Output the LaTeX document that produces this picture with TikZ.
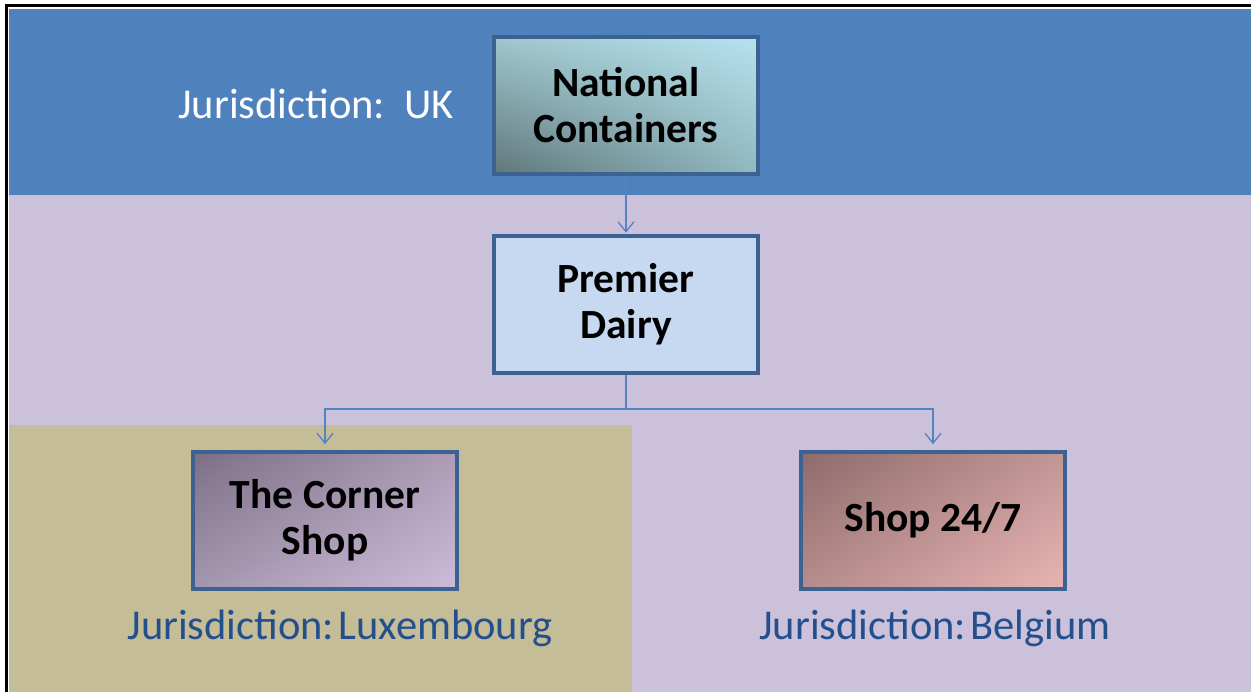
\documentclass[tikz,border=0pt]{standalone}
\usepackage{fontspec}
\setmainfont{Carlito}
\usetikzlibrary{arrows.meta,shadings}

\definecolor{bandblue}{HTML}{4F81BD}
\definecolor{lavender}{HTML}{CCC1DA}
\definecolor{khaki}{HTML}{C4BD97}
\definecolor{boxedge}{HTML}{3C6291}
\definecolor{linkblue}{HTML}{5283C2}
\definecolor{jurtext}{HTML}{23508D}
\definecolor{dairyfill}{HTML}{C6D9F1}
% corner colours of the shaded entities
\definecolor{ncUL}{HTML}{A0C6CE}
\definecolor{ncUR}{HTML}{B6E2EE}
\definecolor{ncLL}{HTML}{5F777A}
\definecolor{ncLR}{HTML}{92B8C0}
\definecolor{csUL}{HTML}{7B6F85}
\definecolor{csUR}{HTML}{AE9CB6}
\definecolor{csLL}{HTML}{A596B0}
\definecolor{csLR}{HTML}{CCBCDA}
\definecolor{sUL}{HTML}{8E6B6B}
\definecolor{sUR}{HTML}{C29696}
\definecolor{sLL}{HTML}{B68C8C}
\definecolor{sLR}{HTML}{E7B4B2}

\tikzset{
  x=1pt, y=-1pt,
  entity/.style={draw=boxedge, line width=3.5pt, minimum width=264pt,
    minimum height=137pt, inner sep=0pt, align=center,
    font=\fontsize{41.5}{46}\selectfont\bfseries, text=black},
  jurisdiction/.style={font=\fontsize{42.5}{46}\selectfont, inner sep=0pt},
  link/.style={draw=linkblue, line width=1.3pt,
    -{Straight Barb[length=10pt,width=16pt,line width=1.3pt]}},
  trunk/.style={draw=linkblue, line width=1.3pt}
}

\begin{document}
\begin{tikzpicture}
  \useasboundingbox (0,0) rectangle (1251,692);

  % background regions
  \fill[lavender] (9,9) rectangle (1251,692);
  \fill[bandblue] (9,9) rectangle (1251,195);
  \fill[khaki] (9,425) rectangle (632,692);

  % frame on the top and left edges
  \draw[black, line width=3pt] (6,692) -- (6,6) -- (1251,6);

  % entities
  \node[entity, upper left=ncUL, upper right=ncUR, lower left=ncLL, lower right=ncLR]
    (nc) at (626,105.5) {National\\Containers};
  \node[entity, fill=dairyfill] (pd) at (626,304.5) {Premier\\Dairy};
  \node[entity, upper left=csUL, upper right=csUR, lower left=csLL, lower right=csLR]
    (cs) at (325,520.5) {The Corner\\Shop};
  \node[entity, upper left=sUL, upper right=sUR, lower left=sLL, lower right=sLR]
    (s24) at (933,520.5) {Shop 24/7};

  % jurisdiction labels
  \node[jurisdiction, text=white] (jUK) at (316,104) {Jurisdiction:\hspace{0.45em}UK};
  \node[jurisdiction, text=jurtext] (jLU) at (340,628) {Jurisdiction:\hspace{0.1em}Luxembourg};
  \node[jurisdiction, text=jurtext] (jBE) at (935,628) {Jurisdiction:\hspace{0.1em}Belgium};

  % ownership connectors
  \coordinate (fork) at (626,409);
  \draw[link, shorten >=1.5pt] (nc.south) -- (pd.north);
  \draw[trunk] (pd.south) -- (fork);
  \draw[link, shorten >=6pt] (fork) -| (cs.north);
  \draw[link, shorten >=6pt] (fork) -| (s24.north);
\end{tikzpicture}
\end{document}
